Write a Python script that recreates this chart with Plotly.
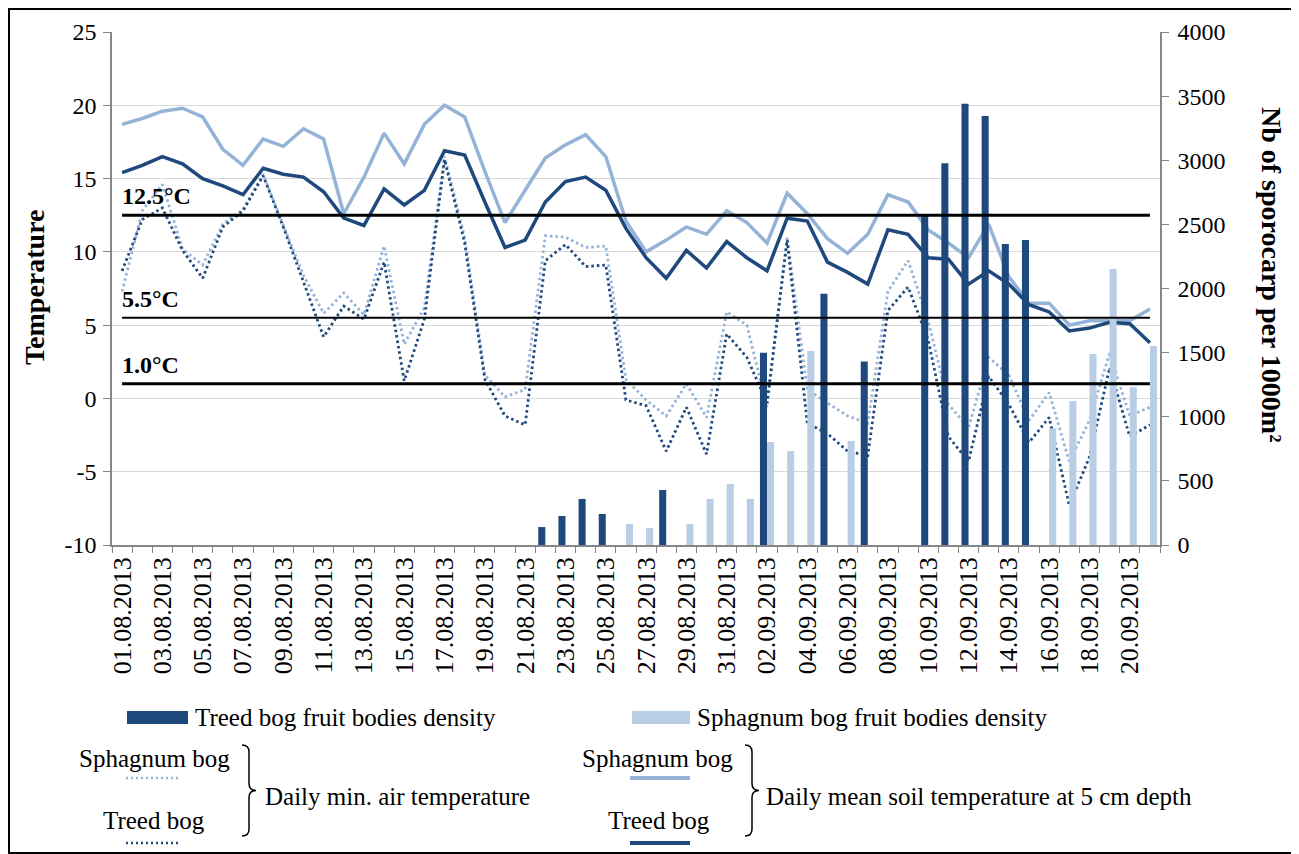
import plotly.graph_objects as go
import pandas as pd

# ---------------- data ----------------
dates = pd.date_range("2013-08-01", "2013-09-21").strftime("%d.%m.%Y").tolist()
tick_text = [d if i % 2 == 0 else "" for i, d in enumerate(dates)]

temp_ticks = [-10, -5, 0, 5, 10, 15, 20, 25]
density_ticks = [0, 500, 1000, 1500, 2000, 2500, 3000, 3500, 4000]

sphagnum_soil = [18.7, 19.1, 19.6, 19.8, 19.2, 17.0, 15.9, 17.7, 17.2, 18.4, 17.7,
                 12.6, 15.1, 18.1, 16.0, 18.7, 20.0, 19.2, 15.5, 12.0, 14.2,
                 16.4, 17.3, 18.0, 16.5, 12.1, 10.0, 10.8, 11.7, 11.2, 12.8,
                 12.0, 10.6, 14.0, 12.6, 10.9, 9.9, 11.2, 13.9, 13.4, 11.5,
                 10.6, 9.6, 11.9, 8.3, 6.5, 6.5, 5.0, 5.3, 5.3, 5.3, 6.1]
treed_soil = [15.4, 15.9, 16.5, 16.0, 15.0, 14.5, 13.9, 15.7, 15.3, 15.1, 14.1,
              12.3, 11.8, 14.3, 13.2, 14.2, 16.9, 16.6, 13.4, 10.3, 10.8,
              13.4, 14.8, 15.1, 14.2, 11.6, 9.6, 8.2, 10.1, 8.9, 10.7,
              9.6, 8.7, 12.3, 12.1, 9.3, 8.6, 7.8, 11.5, 11.2, 9.6,
              9.5, 7.8, 8.7, 7.8, 6.4, 5.9, 4.6, 4.8, 5.2, 5.1, 3.8]
sphagnum_air = [7.3, 12.8, 14.6, 10.2, 9.1, 11.9, 12.9, 15.3, 11.8, 8.4, 5.8,
                7.2, 5.7, 10.4, 3.7, 6.2, 16.5, 11.0, 1.6, 0.1, 0.6,
                11.1, 11.0, 10.3, 10.4, 1.3, -0.1, -1.2, 1.0, -1.3, 5.9,
                5.0, -0.6, 11.0, 0.6, -0.3, -1.2, -1.7, 7.3, 9.4, 5.3,
                -0.4, -2.0, 2.8, 1.6, -1.5, 0.4, -4.3, -1.5, 3.1, -1.2, -0.6]
treed_air = [8.7, 12.2, 13.0, 10.1, 8.2, 11.7, 12.8, 15.2, 11.7, 8.0, 4.2,
             6.3, 5.4, 9.3, 1.2, 5.4, 16.3, 10.6, 1.3, -1.2, -1.8,
             9.4, 10.5, 9.0, 9.1, -0.1, -0.5, -3.6, -0.6, -3.8, 4.4,
             2.8, -0.3, 10.8, -1.7, -2.4, -3.6, -3.9, 6.0, 7.6, 4.0,
             -2.6, -4.3, 1.5, -0.4, -3.0, -1.3, -7.3, -4.0, 2.1, -2.6, -1.8]
treed_density = [None, None, None, None, None, None, None, None, None, None, None,
                 None, None, None, None, None, None, None, None, None, None,
                 140, 226, 359, 242, None, None, 429, None, None, None,
                 None, 1500, None, None, 1960, None, 1430, None, None, 2570,
                 2976, 3440, 3345, 2347, 2378, None, None, None, None, None, None]
sphagnum_density = [None, None, None, None, None, None, None, None, None, None, None,
                    None, None, None, None, None, None, None, None, None, None,
                    None, None, None, None, 164, 133, None, 164, 359, 476,
                    359, 803, 733, 1512, None, 811, None, None, None, None,
                    None, None, None, None, None, 910, 1123, 1489, 2152, 1230, 1552]
thresholds = [12.5, 5.5, 1.0]
threshold_widths = [3, 2, 3]

DARK = "#1f497d"
LIGHT_LINE = "#95b3d7"
LIGHT_BAR = "#b9cde5"
SERIF = "Liberation Serif, Times New Roman, serif"

# ---------------- figure ----------------
fig = go.Figure()
fig.add_trace(go.Scatter(x=dates, y=sphagnum_air, mode="lines", name="Sphagnum bog min air",
                         line=dict(color=LIGHT_LINE, width=2.8, dash="2.5px,3px")))
fig.add_trace(go.Scatter(x=dates, y=treed_air, mode="lines", name="Treed bog min air",
                         line=dict(color=DARK, width=2.8, dash="2.5px,3px")))
fig.add_trace(go.Scatter(x=dates, y=sphagnum_soil, mode="lines", name="Sphagnum bog soil",
                         line=dict(color=LIGHT_LINE, width=3.5)))
fig.add_trace(go.Scatter(x=dates, y=treed_soil, mode="lines", name="Treed bog soil",
                         line=dict(color=DARK, width=3.5)))
fig.add_trace(go.Bar(x=dates, y=treed_density, yaxis="y2", marker_color=DARK,
                     marker_line_width=0, name="Treed bog fruit bodies density"))
fig.add_trace(go.Bar(x=dates, y=sphagnum_density, yaxis="y2", marker_color=LIGHT_BAR,
                     marker_line_width=0, name="Sphagnum bog fruit bodies density"))

# plot area in page pixels (page has an 8px body margin)
OFF = 8
PAGE_W, PAGE_H = 1299, 854
W, H = PAGE_W - OFF, PAGE_H - OFF
L, R, T, B = 112, 1160, 32, 545


def px(x):
    return (x - L) / (R - L)


def py(y):
    return (B - y) / (B - T)


shapes = []
annotations = []

# threshold lines + labels
for t, w in zip(thresholds, threshold_widths):
    shapes.append(dict(type="line", xref="x", yref="y", x0=dates[0], x1=dates[-1],
                       y0=t, y1=t, line=dict(color="black", width=w), layer="above"))
    annotations.append(dict(text=f"<b>{t:.1f}°C</b>", xref="x", yref="y", x=dates[0], y=t,
                            xanchor="left", yanchor="bottom", yshift=4, xshift=-2,
                            showarrow=False, font=dict(family=SERIF, size=24, color="black")))

# axis titles
annotations.append(dict(text="<b>Temperature</b>", xref="paper", yref="paper",
                        x=px(34), y=py(287), textangle=-90, showarrow=False,
                        xanchor="center", yanchor="middle",
                        font=dict(family=SERIF, size=28, color="black")))
annotations.append(dict(text="<b>Nb of sporocarp per 1000m²</b>", xref="paper", yref="paper",
                        x=px(1272), y=py(275), textangle=90, showarrow=False,
                        xanchor="center", yanchor="middle",
                        font=dict(family=SERIF, size=28, color="black")))

# ---------------- custom legend ----------------
legfont = dict(family=SERIF, size=25, color="black")


def text(s, x, y, anchor="left"):
    annotations.append(dict(text=s, xref="paper", yref="paper", x=px(x), y=py(y),
                            xanchor=anchor, yanchor="middle", showarrow=False, font=legfont))


def seg(x0, x1, y, color, width, dash="solid"):
    shapes.append(dict(type="line", xref="paper", yref="paper", x0=px(x0), x1=px(x1),
                       y0=py(y), y1=py(y), line=dict(color=color, width=width, dash=dash)))


def box(x0, x1, y0, y1, color):
    shapes.append(dict(type="rect", xref="paper", yref="paper", x0=px(x0), x1=px(x1),
                       y0=py(y0), y1=py(y1), fillcolor=color, line=dict(width=0)))


def brace(x, y0, y1, w):
    xm = x + w * 0.5
    xt = x + w
    ym = (y0 + y1) / 2
    r = 7
    pts = [("M", [(x, y0)]), ("Q", [(xm, y0), (xm, y0 + r)]), ("L", [(xm, ym - r)]),
           ("Q", [(xm, ym), (xt, ym)]), ("Q", [(xm, ym), (xm, ym + r)]),
           ("L", [(xm, y1 - r)]), ("Q", [(xm, y1), (x, y1)])]
    path = " ".join(c + " " + " ".join(f"{px(a):.5f},{py(b):.5f}" for a, b in p) for c, p in pts)
    shapes.append(dict(type="path", xref="paper", yref="paper", path=path,
                       line=dict(color="black", width=1.5)))


box(127, 188, 711, 724, DARK)
text("Treed bog fruit bodies density", 193, 717)
box(632, 690, 711, 724, LIGHT_BAR)
text("Sphagnum bog fruit bodies density", 695, 717)

text("Sphagnum bog", 154, 758, "center")
seg(126, 180, 778, LIGHT_LINE, 2.5, "2px,3px")
text("Treed bog", 154, 820, "center")
seg(126, 180, 843, DARK, 2.5, "2px,3px")
brace(242, 745, 836, 14)
text("Daily min. air temperature", 263, 796)

text("Sphagnum bog", 657, 758, "center")
seg(630, 690, 778, LIGHT_LINE, 4)
text("Treed bog", 659, 820, "center")
seg(630, 690, 843, DARK, 4)
brace(745, 745, 836, 14)
text("Daily mean soil temperature at 5 cm depth", 764, 796)

# outer frame
shapes.append(dict(type="rect", xref="paper", yref="paper", x0=px(OFF + 1), x1=px(PAGE_W - 1),
                   y0=py(OFF + 1), y1=py(PAGE_H - 1), line=dict(color="black", width=2)))

fig.update_layout(
    width=W, height=H,
    margin=dict(l=L - OFF, r=PAGE_W - R, t=T - OFF, b=PAGE_H - B),
    paper_bgcolor="white", plot_bgcolor="white",
    showlegend=False,
    barmode="group", bargap=0.3, bargroupgap=0,
    font=dict(family=SERIF, color="black"),
    shapes=shapes, annotations=annotations,
    xaxis=dict(type="category", range=[-0.5, len(dates) - 0.5],
               tickmode="array", tickvals=dates, ticktext=tick_text,
               tickangle=-90, tickson="boundaries", ticks="outside", ticklen=6,
               tickcolor="#868686", showline=True, linecolor="#868686", linewidth=1.5,
               showgrid=False, tickfont=dict(family=SERIF, size=26, color="black")),
    yaxis=dict(range=[-10, 25], tickmode="array", tickvals=temp_ticks,
               ticktext=[str(v) for v in temp_ticks],
               showgrid=True, gridcolor="#d9d9d9",
               gridwidth=1.3, zeroline=False, showline=True, linecolor="#868686",
               linewidth=1.5, ticks="outside", ticklen=7, tickcolor="#868686",
               ticklabelstandoff=2,
               tickfont=dict(family=SERIF, size=24, color="black")),
    yaxis2=dict(range=[0, 4000], tickmode="array", tickvals=density_ticks,
                ticktext=[str(v) for v in density_ticks],
                overlaying="y", side="right", showgrid=False,
                zeroline=False, showline=True, linecolor="#868686", linewidth=1.5,
                ticks="outside", ticklen=7, tickcolor="#868686", ticklabelstandoff=4,
                tickfont=dict(family=SERIF, size=24, color="black")),
)

fig.write_html("out.html")
